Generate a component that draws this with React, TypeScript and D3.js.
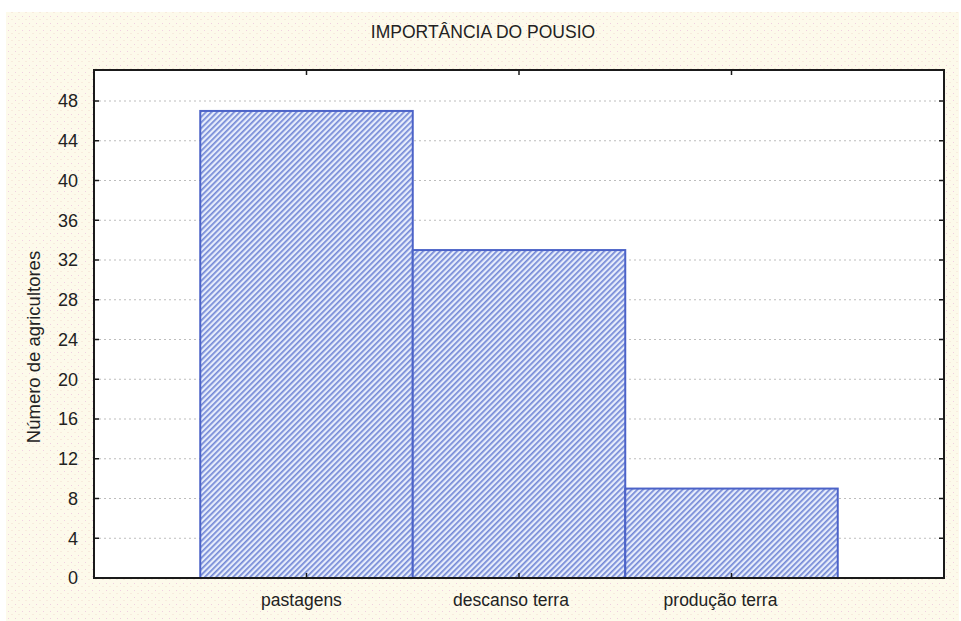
import React from "react";
import * as d3 from "d3";

const title = "IMPORTÂNCIA DO POUSIO";
const yLabel = "Número de agricultores";
const categories = ["pastagens", "descanso terra", "produção terra"];
const values = [47, 33, 9];
const yTicks = [0, 4, 8, 12, 16, 20, 24, 28, 32, 36, 40, 44, 48];

const W = 961;
const H = 621;
const left = 94;
const right = 944;
const top = 70;
const bottom = 578;

export default function App() {
  const x = d3.scaleLinear().domain([0, categories.length + 1]).range([left, right]);
  const y = d3.scaleLinear().domain([0, 51.12]).range([bottom, top]);
  const font = "Arial, 'Liberation Sans', sans-serif";
  return (
    <svg width={W} height={H} style={{ position: "absolute", left: 0, top: 0 }}>
      <defs>
        <pattern id="paper" width="7" height="7" patternUnits="userSpaceOnUse">
          <rect width="7" height="7" fill="#fdfaeb" />
          <rect x="1" y="2" width="1" height="1" fill="#f0cfe0" />
          <rect x="4.5" y="5" width="1" height="1" fill="#f3dcd2" />
        </pattern>
        <pattern id="hatch" width="4" height="4" patternUnits="userSpaceOnUse" patternTransform="rotate(45)">
          <rect width="4" height="4" fill="#e6ecfb" />
          <rect x="0" y="0" width="1.7" height="4" fill="#7489d6" />
        </pattern>
      </defs>
      <rect x={0} y={0} width={W} height={H} fill="#ffffff" />
      <rect x={6} y={12} width={W - 8} height={H - 12} fill="url(#paper)" />
      <text x={483} y={38} textAnchor="middle" fontFamily={font} fontSize={17.5} fill="#222">
        {title}
      </text>
      <rect x={left} y={top} width={right - left} height={bottom - top} fill="#ffffff" />
      {yTicks.filter((t) => t > 0).map((t) => (
        <line key={"g" + t} x1={left} x2={right} y1={y(t)} y2={y(t)} stroke="#bdbdbd" strokeWidth={1} strokeDasharray="2,3" />
      ))}
      {values.map((v, i) => (
        <rect
          key={categories[i]}
          x={x(i + 0.5)}
          y={y(v)}
          width={x(i + 1.5) - x(i + 0.5)}
          height={y(0) - y(v)}
          fill="url(#hatch)"
          stroke="#4c63c8"
          strokeWidth={2}
        />
      ))}
      <rect x={left} y={top} width={right - left} height={bottom - top} fill="none" stroke="#1a1a1a" strokeWidth={2} />
      {yTicks.map((t) => (
        <g key={"t" + t}>
          <line x1={left} x2={left + 5} y1={y(t)} y2={y(t)} stroke="#1a1a1a" strokeWidth={1.5} />
          <line x1={right - 5} x2={right} y1={y(t)} y2={y(t)} stroke="#1a1a1a" strokeWidth={1.5} />
          <text x={left - 16} y={y(t)} dy="0.36em" textAnchor="end" fontFamily={font} fontSize={18} fill="#222">
            {t}
          </text>
        </g>
      ))}
      {categories.map((c, i) => (
        <g key={"x" + c}>
          <line x1={x(i + 1)} x2={x(i + 1)} y1={bottom} y2={bottom - 5} stroke="#1a1a1a" strokeWidth={1.5} />
          <line x1={x(i + 1)} x2={x(i + 1)} y1={top} y2={top + 5} stroke="#1a1a1a" strokeWidth={1.5} />
          <text x={x(i + 1) - 5 - 3 * i} y={606} textAnchor="middle" fontFamily={font} fontSize={17.5} fill="#222">
            {c}
          </text>
        </g>
      ))}
      <text
        transform={`translate(40,347) rotate(-90)`}
        textAnchor="middle"
        fontFamily={font}
        fontSize={18.5}
        fill="#222"
      >
        {yLabel}
      </text>
    </svg>
  );
}
